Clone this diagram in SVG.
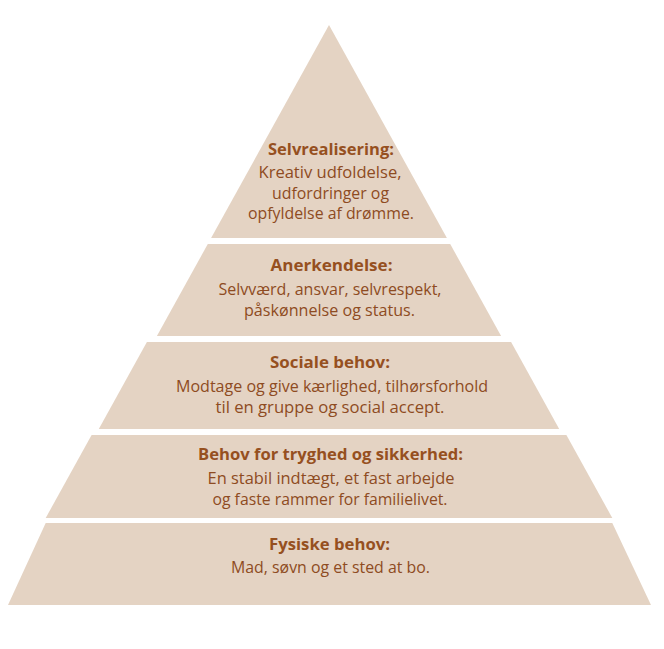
<svg xmlns="http://www.w3.org/2000/svg" width="664" height="649" viewBox="0 0 664 649">
<style>
.layer{fill:#E4D3C3}
.t{font-family:"Open Sans",Lato,"Liberation Sans",sans-serif;font-size:16px;text-anchor:middle;fill:#8E4B22}
.h{font-weight:bold;fill:#96501F}
</style>
<rect width="664" height="649" fill="#FFFFFF"/>
<g id="level5">
<polygon class="layer" points="45.7,523 612.3,523 651,605 8,605"/>
<text class="t h" x="329.5" y="550" textLength="121" lengthAdjust="spacingAndGlyphs">Fysiske behov:</text>
<text class="t" x="330.5" y="573" textLength="199" lengthAdjust="spacingAndGlyphs">Mad, søvn og et sted at bo.</text>
</g>
<g id="level4">
<polygon class="layer" points="91.6,435 566.4,435 612.3,518 45.7,518"/>
<text class="t h" x="330.5" y="460" textLength="265" lengthAdjust="spacingAndGlyphs">Behov for tryghed og sikkerhed:</text>
<text class="t" x="331" y="484" textLength="247" lengthAdjust="spacingAndGlyphs">En stabil indtægt, et fast arbejde</text>
<text class="t" x="330" y="505" textLength="235" lengthAdjust="spacingAndGlyphs">og faste rammer for familielivet.</text>
</g>
<g id="level3">
<polygon class="layer" points="146.9,342 511.1,342 559.2,429 98.8,429"/>
<text class="t h" x="330" y="368" textLength="120" lengthAdjust="spacingAndGlyphs">Sociale behov:</text>
<text class="t" x="332" y="392" textLength="312" lengthAdjust="spacingAndGlyphs">Modtage og give kærlighed, tilhørsforhold</text>
<text class="t" x="330" y="413" textLength="229" lengthAdjust="spacingAndGlyphs">til en gruppe og social accept.</text>
</g>
<g id="level2">
<polygon class="layer" points="207.8,244 450.2,244 501.1,336 156.9,336"/>
<text class="t h" x="331.5" y="271" textLength="122" lengthAdjust="spacingAndGlyphs">Anerkendelse:</text>
<text class="t" x="330" y="295" textLength="223" lengthAdjust="spacingAndGlyphs">Selvværd, ansvar, selvrespekt,</text>
<text class="t" x="329.5" y="316" textLength="171" lengthAdjust="spacingAndGlyphs">påskønnelse og status.</text>
</g>
<g id="level1">
<polygon class="layer" points="329,25 446.9,238 211.1,238"/>
<text class="t h" x="331" y="155" textLength="126" lengthAdjust="spacingAndGlyphs">Selvrealisering:</text>
<text class="t" x="330" y="178" textLength="143" lengthAdjust="spacingAndGlyphs">Kreativ udfoldelse,</text>
<text class="t" x="330.5" y="199" textLength="117" lengthAdjust="spacingAndGlyphs">udfordringer og</text>
<text class="t" x="331" y="219" textLength="166" lengthAdjust="spacingAndGlyphs">opfyldelse af drømme.</text>
</g>
<g id="connectors"></g>
</svg>
